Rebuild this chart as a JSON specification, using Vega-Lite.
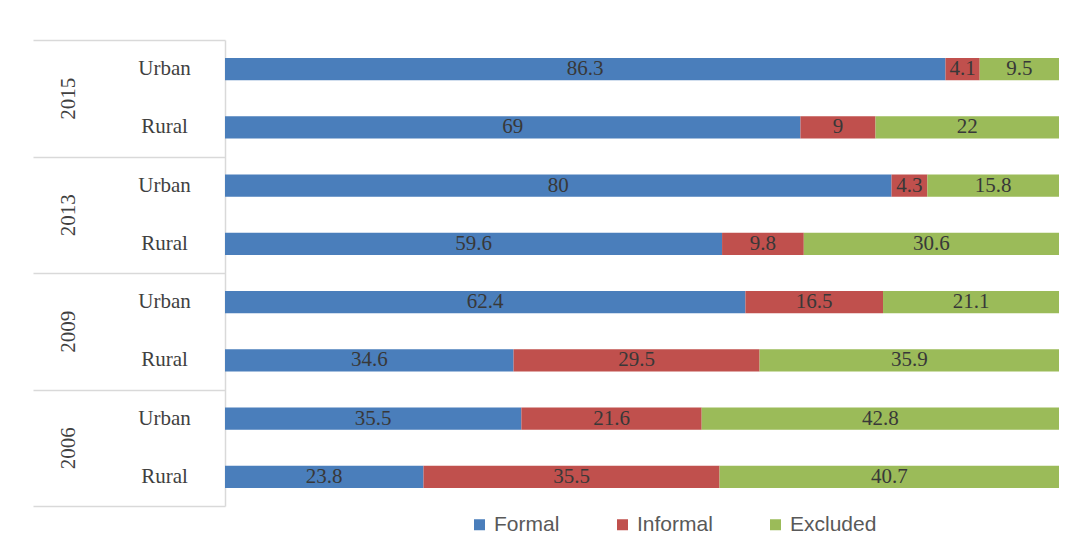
{
  "$schema": "https://vega.github.io/schema/vega-lite/v6.json",
  "width": 834,
  "height": 466,
  "padding": {"left": 32, "top": 39, "right": 6, "bottom": 0},
  "background": "white",
  "config": {
    "view": {"stroke": null},
    "font": "Liberation Serif"
  },
  "data": {
    "values": [
      {"year": "2015", "area": "Urban", "category": "Formal", "value": 86.3},
      {"year": "2015", "area": "Urban", "category": "Informal", "value": 4.1},
      {"year": "2015", "area": "Urban", "category": "Excluded", "value": 9.5},
      {"year": "2015", "area": "Rural", "category": "Formal", "value": 69},
      {"year": "2015", "area": "Rural", "category": "Informal", "value": 9},
      {"year": "2015", "area": "Rural", "category": "Excluded", "value": 22},
      {"year": "2013", "area": "Urban", "category": "Formal", "value": 80},
      {"year": "2013", "area": "Urban", "category": "Informal", "value": 4.3},
      {"year": "2013", "area": "Urban", "category": "Excluded", "value": 15.8},
      {"year": "2013", "area": "Rural", "category": "Formal", "value": 59.6},
      {"year": "2013", "area": "Rural", "category": "Informal", "value": 9.8},
      {"year": "2013", "area": "Rural", "category": "Excluded", "value": 30.6},
      {"year": "2009", "area": "Urban", "category": "Formal", "value": 62.4},
      {"year": "2009", "area": "Urban", "category": "Informal", "value": 16.5},
      {"year": "2009", "area": "Urban", "category": "Excluded", "value": 21.1},
      {"year": "2009", "area": "Rural", "category": "Formal", "value": 34.6},
      {"year": "2009", "area": "Rural", "category": "Informal", "value": 29.5},
      {"year": "2009", "area": "Rural", "category": "Excluded", "value": 35.9},
      {"year": "2006", "area": "Urban", "category": "Formal", "value": 35.5},
      {"year": "2006", "area": "Urban", "category": "Informal", "value": 21.6},
      {"year": "2006", "area": "Urban", "category": "Excluded", "value": 42.8},
      {"year": "2006", "area": "Rural", "category": "Formal", "value": 23.8},
      {"year": "2006", "area": "Rural", "category": "Informal", "value": 35.5},
      {"year": "2006", "area": "Rural", "category": "Excluded", "value": 40.7}
    ]
  },
  "transform": [
    {"calculate": "datum.year + ' ' + datum.area", "as": "key"},
    {"calculate": "indexof(['Formal','Informal','Excluded'], datum.category)", "as": "ord"}
  ],
  "layer": [
    {
      "layer": [
        {
          "mark": {"type": "bar"},
          "encoding": {
            "y": {
              "field": "key", "type": "nominal",
              "sort": ["2015 Urban", "2015 Rural", "2013 Urban", "2013 Rural", "2009 Urban", "2009 Rural", "2006 Urban", "2006 Rural"],
              "scale": {"paddingInner": 0.62, "paddingOuter": 0.31},
              "axis": {
                "orient": "left",
                "labelExpr": "split(datum.label, ' ')[1]",
                "ticks": false, "domain": false, "grid": false,
                "labelAlign": "center", "labelBaseline": "middle",
                "labelPadding": 61,
                "labelFont": "Liberation Serif", "labelFontSize": 21, "labelColor": "#404040",
                "title": null
              }
            },
            "x": {"field": "value", "type": "quantitative", "stack": "normalize", "axis": null, "scale": {"nice": false}},
            "color": {
              "field": "category", "type": "nominal",
              "scale": {"domain": ["Formal", "Informal", "Excluded"], "range": ["#4a7ebb", "#c0504d", "#9bbb59"]},
              "legend": {
                "orient": "none", "legendX": 244, "legendY": 474,
                "direction": "horizontal", "title": null,
                "symbolType": "square", "symbolSize": 121, "symbolStrokeWidth": 0,
                "labelFont": "Liberation Sans", "labelFontSize": 21, "labelColor": "#595959",
                "labelOffset": 4, "columnPadding": 52
              }
            },
            "order": {"field": "ord"}
          }
        },
        {
          "mark": {"type": "text", "font": "Liberation Serif", "fontSize": 21, "color": "#383838", "baseline": "middle"},
          "encoding": {
            "y": {
              "field": "key", "type": "nominal",
              "sort": ["2015 Urban", "2015 Rural", "2013 Urban", "2013 Rural", "2009 Urban", "2009 Rural", "2006 Urban", "2006 Rural"]
            },
            "x": {"field": "value", "type": "quantitative", "stack": "normalize", "bandPosition": 0.5},
            "detail": {"field": "category"},
            "text": {"field": "value", "type": "quantitative"},
            "order": {"field": "ord"}
          }
        }
      ]
    },
    {
      "mark": {"type": "tick", "opacity": 0},
      "encoding": {
        "y": {
          "field": "year", "type": "ordinal",
          "sort": ["2015", "2013", "2009", "2006"],
          "scale": {"paddingInner": 0, "paddingOuter": 0},
          "axis": {
            "orient": "left", "offset": 0,
            "tickBand": "extent", "tickSize": 192, "tickColor": "#d9d9d9", "tickWidth": 1.5,
            "domainColor": "#d9d9d9", "domainWidth": 1.5, "grid": false,
            "labelAngle": -90, "labelAlign": "center", "labelBaseline": "middle",
            "labelPadding": -35,
            "labelFont": "Liberation Serif", "labelFontSize": 21, "labelColor": "#404040",
            "title": null
          }
        }
      }
    }
  ],
  "resolve": {"scale": {"y": "independent"}, "axis": {"y": "independent"}}
}
